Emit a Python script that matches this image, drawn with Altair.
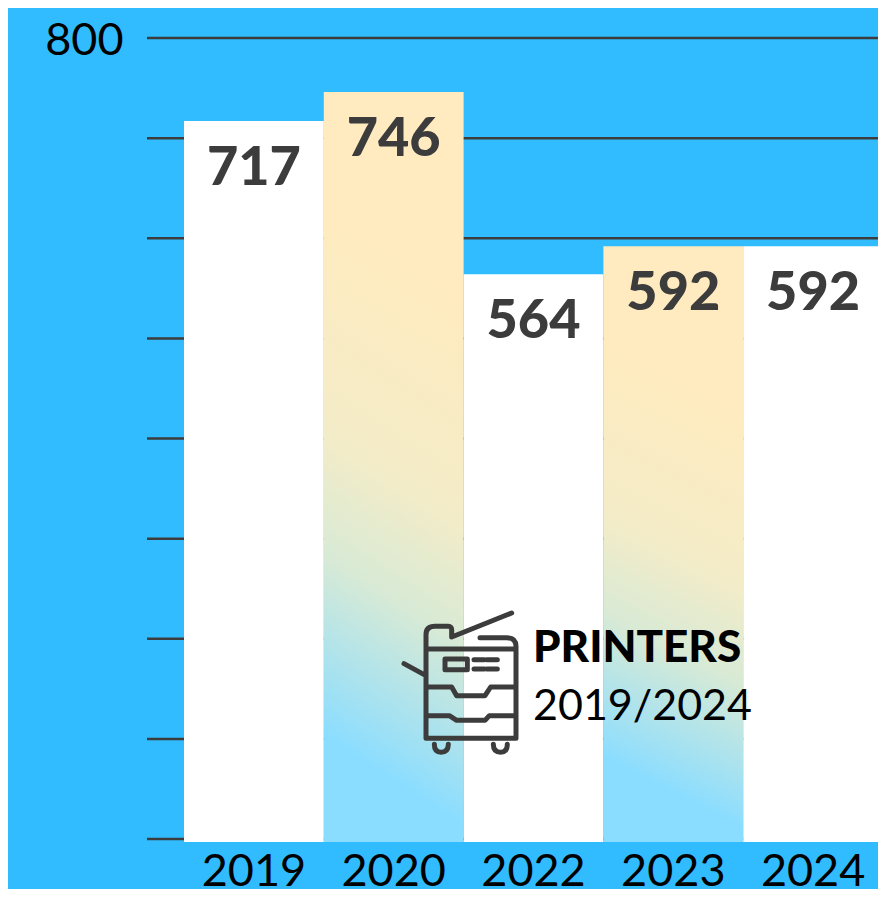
import re
import altair as alt
import pandas as pd

years = ["2019", "2020", "2022", "2023", "2024"]
values = [717, 746, 564, 592, 592]
highlighted = [False, True, False, True, False]
y_ticks = [0, 100, 200, 300, 400, 500, 600, 700, 800]
title_bold = "PRINTERS"
title_range = "2019/2024"

BLUE = "#31BCFF"
DARK = "#3C3C3C"
FONT = "Lato"

df = pd.DataFrame({"year": years, "value": values, "hl": highlighted, "base": [-3] * 5})
ticks_df = pd.DataFrame({"tick": y_ticks})

x_enc = alt.X(
    "year:N",
    sort=years,
    scale=alt.Scale(range=[37, 736], paddingInner=0, paddingOuter=0),
    axis=alt.Axis(
        title=None, labelAngle=0, ticks=False, domain=False, grid=False,
        labelFont=FONT, labelFontSize=45, labelColor="#000000", labelPadding=10,
        labelOverlap=False,
    ),
)
y_scale = alt.Scale(domain=[0, 800], nice=False)
y_axis = alt.Axis(
    title=None, values=y_ticks, ticks=False, domain=False, grid=False,
    labelFont=FONT, labelFontSize=45, labelColor="#000000", labelPadding=24,
    labelOverlap=False, labelOffset=2,
    labelExpr="datum.value == 800 ? '800' : ''",
)
y_enc = alt.Y("value:Q", scale=y_scale, axis=y_axis)

grid = (
    alt.Chart(ticks_df)
    .mark_rule(color=DARK, strokeWidth=2.5)
    .encode(y=alt.Y("tick:Q", scale=y_scale, axis=y_axis), x=alt.value(0), x2=alt.value(731))
)

gradient = alt.Gradient(
    gradient="linear", x1=0.44, y1=1, x2=0.56, y2=0,
    stops=[
        alt.GradientStop(color="#8BDDFF", offset=0.09),
        alt.GradientStop(color="#D8EAD5", offset=0.327),
        alt.GradientStop(color="#F3ECC8", offset=0.485),
        alt.GradientStop(color="#FFEBBF", offset=0.78),
    ],
)

white_bars = (
    alt.Chart(df).transform_filter("!datum.hl")
    .mark_bar(color="#FFFFFF")
    .encode(x=x_enc, y=y_enc, y2="base:Q")
)
grad_bars = (
    alt.Chart(df).transform_filter("datum.hl")
    .mark_bar(color=gradient)
    .encode(x=x_enc, y=y_enc, y2="base:Q")
)
labels = (
    alt.Chart(df)
    .mark_text(font=FONT, fontSize=54, fontWeight=900, color=DARK, baseline="middle", dy=48)
    .encode(x=x_enc, y=y_enc, text="value:Q")
)


def icon_path():
    src = (
        "M270,114 L350,114 Q378,114 378,140 L378,416 L108,416 L108,105 Q108,80 135,80 "
        "L175,80 Q185,80 185,90 L185,112 L365,40 "
        "M42,192 L108,228 M108,148 L378,148 "
        "M165,178 L232,178 L232,210 L165,210 Z "
        "M252,180 L283,180 M290,180 L322,180 M252,208 L283,208 M290,208 L322,208 "
        "M108,262 L185,262 L200,288 L285,288 L302,262 L378,262 "
        "M108,348 L178,348 L200,362 L285,362 L298,348 L378,348 "
        "M133,434 Q133,458 153,458 Q175,458 175,434 "
        "M310,434 Q310,458 332,458 Q352,458 352,434"
    )
    # zoomed artwork units -> square -1..1 box centred on the icon
    def conv(m):
        x, y = float(m.group(1)), float(m.group(2))
        return f"{(x - 210) / 225:.4f},{(y - 250) / 225:.4f}"
    return re.sub(r"(\d+),(\d+)", conv, src)


icon = (
    alt.Chart(pd.DataFrame({"name": ["printer"]}))
    .mark_point(shape=icon_path(), size=22500, filled=False, stroke=DARK, strokeWidth=5,
                strokeCap="round", strokeJoin="round", opacity=1)
    .encode(x=alt.value(313), y=alt.value(645))
)
title_a = (
    alt.Chart(pd.DataFrame({"t": [title_bold]}))
    .mark_text(font=FONT, fontSize=44, fontWeight=900, color="#000000", align="left", baseline="alphabetic")
    .encode(x=alt.value(386), y=alt.value(624), text="t:N")
)
title_b = (
    alt.Chart(pd.DataFrame({"t": [title_range]}))
    .mark_text(font=FONT, fontSize=43, color="#000000", align="left", baseline="alphabetic")
    .encode(x=alt.value(386), y=alt.value(682), text="t:N")
)

chart = (
    alt.layer(grid, white_bars, grad_bars, labels, icon, title_a, title_b)
    .properties(
        width=731, height=801, background=BLUE,
        padding={"left": 139, "top": 30, "right": 0, "bottom": 50},
        autosize=alt.AutoSizeParams(type="none"),
    )
    .configure_view(stroke=None)
)

chart.save("out.html", embed_options={"renderer": "svg", "actions": False})
